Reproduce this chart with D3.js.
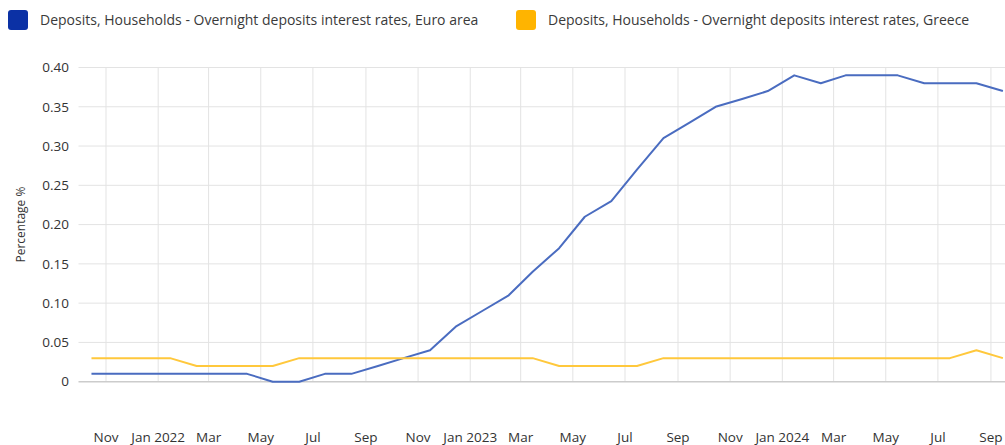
<!DOCTYPE html>
<html>
<head>
<meta charset="utf-8">
<script src="https://cdn.jsdelivr.net/npm/d3@7"></script>
<style>
  body { margin: 0; background: #fff; }
  svg { display: block; font-family: "Open Sans", sans-serif; }
</style>
</head>
<body>
<div id="vis"></div>
<script>
// Datos (mensual, oct 2021 - sep 2024)
const months = [
  "2021-10", "2021-11", "2021-12", "2022-01", "2022-02", "2022-03",
  "2022-04", "2022-05", "2022-06", "2022-07", "2022-08", "2022-09",
  "2022-10", "2022-11", "2022-12", "2023-01", "2023-02", "2023-03",
  "2023-04", "2023-05", "2023-06", "2023-07", "2023-08", "2023-09",
  "2023-10", "2023-11", "2023-12", "2024-01", "2024-02", "2024-03",
  "2024-04", "2024-05", "2024-06", "2024-07", "2024-08", "2024-09"
];
const euroArea = [
  0.01, 0.01, 0.01, 0.01, 0.01, 0.01,
  0.01, 0.00, 0.00, 0.01, 0.01, 0.02,
  0.03, 0.04, 0.07, 0.09, 0.11, 0.14,
  0.17, 0.21, 0.23, 0.27, 0.31, 0.33,
  0.35, 0.36, 0.37, 0.39, 0.38, 0.39,
  0.39, 0.39, 0.38, 0.38, 0.38, 0.37
];
const greece = [
  0.03, 0.03, 0.03, 0.03, 0.02, 0.02,
  0.02, 0.02, 0.03, 0.03, 0.03, 0.03,
  0.03, 0.03, 0.03, 0.03, 0.03, 0.03,
  0.02, 0.02, 0.02, 0.02, 0.03, 0.03,
  0.03, 0.03, 0.03, 0.03, 0.03, 0.03,
  0.03, 0.03, 0.03, 0.03, 0.04, 0.03
];
const seriesNames = [
  "Deposits, Households - Overnight deposits interest rates, Euro area",
  "Deposits, Households - Overnight deposits interest rates, Greece"
];
const yTicks = [0, 0.05, 0.10, 0.15, 0.20, 0.25, 0.30, 0.35, 0.40];
const yLabel = "Percentage %";

/********************************************************************
Tamaños
*********************************************************************/
const WIDTH = 1005;
const HEIGHT = 445;
const plot = { left: 79.5, top: 67.5, bottom: 381.7 };
const monthPx = 26.03;

const parseMonth = d3.timeParse("%Y-%m-%d");
const dates = months.map(m => parseMonth(m + "-15"));

const x = d3.scaleTime()
  .domain([parseMonth("2021-10-01"), parseMonth("2024-10-01")])
  .range([plot.left, plot.left + 36 * monthPx]);

const y = d3.scaleLinear()
  .domain([0, 0.40])
  .range([plot.bottom, plot.top]);

const svg = d3.select("#vis")
  .append("svg")
  .attr("width", WIDTH)
  .attr("height", HEIGHT);

// Grilla horizontal
svg.append("g")
  .selectAll("line")
  .data(yTicks.filter(d => d > 0))
  .enter()
  .append("line")
  .attr("x1", plot.left - 1)
  .attr("x2", WIDTH)
  .attr("y1", d => y(d))
  .attr("y2", d => y(d))
  .attr("stroke", "#e3e3e3")
  .attr("stroke-width", 1);

// Grilla vertical + etiquetas del eje x
const xTicks = d3.timeMonth.every(2).range(parseMonth("2021-11-01"), parseMonth("2024-10-01"));

svg.append("g")
  .selectAll("line")
  .data(xTicks)
  .enter()
  .append("line")
  .attr("x1", d => x(d))
  .attr("x2", d => x(d))
  .attr("y1", plot.top)
  .attr("y2", plot.bottom)
  .attr("stroke", "#e3e3e3")
  .attr("stroke-width", 1);

const fmtMonth = d3.timeFormat("%b");
const fmtYear = d3.timeFormat("%b %Y");

svg.append("g")
  .selectAll("text")
  .data(xTicks)
  .enter()
  .append("text")
  .attr("x", d => x(d))
  .attr("y", 442)
  .attr("text-anchor", "middle")
  .attr("font-size", 13.5)
  .attr("fill", "#333")
  .text(d => d.getMonth() === 0 ? fmtYear(d) : fmtMonth(d));

// Línea base
svg.append("line")
  .attr("x1", plot.left - 1)
  .attr("x2", WIDTH)
  .attr("y1", y(0))
  .attr("y2", y(0))
  .attr("stroke", "#cccccc")
  .attr("stroke-width", 1.5);

// Eje y
svg.append("g")
  .selectAll("text")
  .data(yTicks)
  .enter()
  .append("text")
  .attr("x", 69)
  .attr("y", d => y(d))
  .attr("dy", "0.35em")
  .attr("text-anchor", "end")
  .attr("font-size", 13.5)
  .attr("fill", "#333")
  .text(d => d === 0 ? "0" : d.toFixed(2));

svg.append("text")
  .attr("transform", `translate(25, ${(plot.top + plot.bottom) / 2}) rotate(-90)`)
  .attr("text-anchor", "middle")
  .attr("font-size", 12)
  .attr("fill", "#333")
  .text(yLabel);

// Líneas
const line = d3.line()
  .x((d, i) => x(dates[i]))
  .y(d => y(d));

const lineColors = ["#4a6cc0", "#ffc83c"];
const legendColors = ["#0b31a5", "#ffb400"];

[euroArea, greece].forEach((values, k) => {
  svg.append("path")
    .datum(values)
    .attr("d", line)
    .attr("fill", "none")
    .attr("stroke", lineColors[k])
    .attr("stroke-width", 2)
    .attr("stroke-linejoin", "round");
});

// Leyenda
const legendX = [8, 516];
seriesNames.forEach((name, k) => {
  const g = svg.append("g").attr("transform", `translate(${legendX[k]}, 10)`);
  g.append("rect")
    .attr("width", 20)
    .attr("height", 20)
    .attr("rx", 3)
    .attr("fill", legendColors[k]);
  g.append("text")
    .attr("x", 32)
    .attr("y", 10)
    .attr("dy", "0.35em")
    .attr("font-size", 14)
    .attr("fill", "#3a3a3a")
    .text(name);
});
</script>
</body>
</html>
